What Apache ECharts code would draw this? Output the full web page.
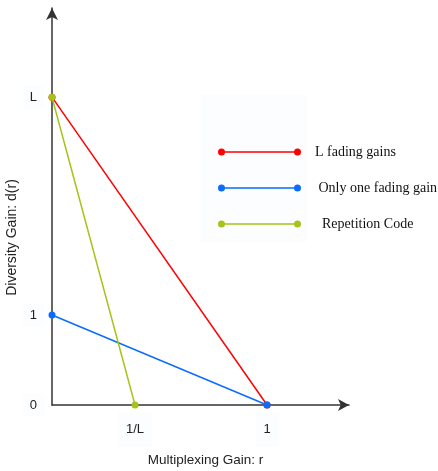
<!DOCTYPE html>
<html>
<head>
<meta charset="utf-8">
<script src="https://cdn.jsdelivr.net/npm/echarts@6/dist/echarts.min.js"></script>
<style>html,body{margin:0;padding:0;background:#fff}#c{width:438px;height:471px}</style>
</head>
<body>
<div id="c"></div>
<script>
// schematic positions of symbolic values
var L_POS = 3.42;        // y position of "L"
var INV_L_POS = 0.386;   // x position of "1/L"

var xTickValues = [INV_L_POS, 1];
var xTickLabels = ['1/L', '1'];
var yTickValues = [0, 1, L_POS];
var yTickLabels = ['0', '1', 'L'];

var seriesNames = ['L fading gains', 'Only one fading gain', 'Repetition Code'];
var lFading = [[0, L_POS], [1, 0]];
var oneFading = [[0, 1], [1, 0]];
var repetition = [[0, L_POS], [INV_L_POS, 0]];
var colors = ['#ff0000', '#0a6cff', '#a4c41a'];

var legendPad = ['', ' ', '  '];

function lookup(vals, labels, v) {
  for (var i = 0; i < vals.length; i++) if (Math.abs(vals[i] - v) < 1e-6) return labels[i];
  return '';
}

var icon = 'path://M3.5,3.2L79.5,3.2L79.5,4.8L3.5,4.8Z' +
  'M0,4A3.5,3.5 0 1 1 7,4A3.5,3.5 0 1 1 0,4Z' +
  'M76,4A3.5,3.5 0 1 1 83,4A3.5,3.5 0 1 1 76,4Z';

var faint = '#fbfdfe';

var chart = echarts.init(document.getElementById('c'));
chart.setOption({
  animation: false,
  backgroundColor: '#ffffff',
  graphic: [{
    type: 'rect', left: 201, top: 95, z: -10,
    shape: { width: 106, height: 147 },
    style: { fill: faint }
  }],
  grid: { left: 52, right: 89, top: 8, bottom: 66, outerBoundsMode: 'none', containLabel: false },
  legend: {
    orient: 'vertical',
    left: 218, top: 145, padding: 0,
    itemWidth: 83, itemHeight: 8,
    itemGap: 22,
    icon: icon,
    data: seriesNames,
    formatter: function (name) { return legendPad[seriesNames.indexOf(name)] + name; },
    textStyle: { fontFamily: 'Liberation Serif', fontSize: 14, color: '#111', padding: [0, 0, 0, 9], lineHeight: 14 }
  },
  xAxis: {
    type: 'value', min: 0, max: 1.381,
    name: 'Multiplexing Gain: r', nameLocation: 'middle', nameGap: 48, nameMoveOverlap: false,
    nameTextStyle: { fontFamily: 'Liberation Sans', fontSize: 13.5, color: '#222', padding: [0, 0, 0, 10] },
    axisLine: { show: true, symbol: ['none', 'arrow'], symbolSize: [9, 11], lineStyle: { color: '#333', width: 1.5 } },
    axisTick: { show: false },
    splitLine: { show: false },
    axisLabel: {
      customValues: xTickValues, margin: 7,
      formatter: function (v) { return lookup(xTickValues, xTickLabels, v); },
      fontFamily: 'Liberation Sans', fontSize: 13, color: '#222',
      backgroundColor: faint, padding: [11, 8]
    }
  },
  yAxis: {
    type: 'value', min: 0, max: 4.411,
    name: 'Diversity Gain: d(r)', nameLocation: 'middle', nameGap: 33, nameMoveOverlap: false,
    nameTextStyle: { fontFamily: 'Liberation Sans', fontSize: 14, color: '#222', padding: [0, 62, 0, 0] },
    axisLine: { show: true, symbol: ['none', 'arrow'], symbolSize: [9, 12], lineStyle: { color: '#333', width: 1.5 } },
    axisTick: { show: false },
    splitLine: { show: false },
    axisLabel: {
      customValues: yTickValues, margin: 8, align: 'right',
      formatter: function (v) { return lookup(yTickValues, yTickLabels, v); },
      fontFamily: 'Liberation Sans', fontSize: 13, color: '#222',
      backgroundColor: faint, padding: [5, 7]
    }
  },
  series: [
    { name: seriesNames[0], type: 'line', data: lFading, symbol: 'circle', symbolSize: 7,
      itemStyle: { color: colors[0] }, lineStyle: { color: colors[0], width: 1.5 }, z: 3 },
    { name: seriesNames[1], type: 'line', data: oneFading, symbol: 'circle', symbolSize: 7,
      itemStyle: { color: colors[1] }, lineStyle: { color: colors[1], width: 1.5 }, z: 4 },
    { name: seriesNames[2], type: 'line', data: repetition, symbol: 'circle', symbolSize: 7,
      itemStyle: { color: colors[2] }, lineStyle: { color: colors[2], width: 1.5 }, z: 5 }
  ]
});
</script>
</body>
</html>
